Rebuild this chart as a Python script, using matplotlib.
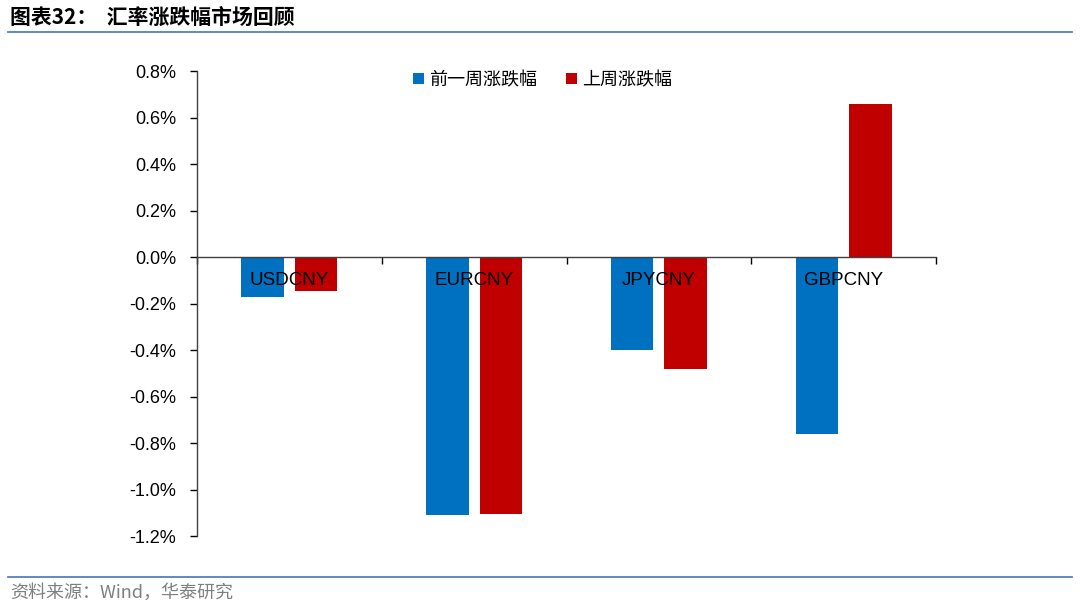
import matplotlib.pyplot as plt
import matplotlib.ticker as mticker
import numpy as np

plt.rcParams['font.family'] = ['Liberation Sans', 'Noto Sans CJK SC', 'DejaVu Sans']

pairs = ['USDCNY', 'EURCNY', 'JPYCNY', 'GBPCNY']
prev_week = [-0.17, -1.11, -0.40, -0.76]   # 前一周涨跌幅 (%)
last_week = [-0.145, -1.105, -0.48, 0.66]  # 上周涨跌幅 (%)
series_names = ['前一周涨跌幅', '上周涨跌幅']

fig = plt.figure(figsize=(10.8, 6.06), dpi=100)
ax = fig.add_axes([0.1824, 0.1155, 0.6843, 0.7673])

x = np.arange(len(pairs))
w = 0.23
ax.bar(x - 0.145, prev_week, w, color='#0070C0', label=series_names[0], zorder=2)
ax.bar(x + 0.145, last_week, w, color='#C00000', label=series_names[1], zorder=2)

ax.set_xlim(-0.5, len(pairs) - 0.5)
ax.set_ylim(-1.2, 0.8)
ax.yaxis.set_major_locator(mticker.MultipleLocator(0.2))
ax.yaxis.set_major_formatter(mticker.FuncFormatter(lambda v, p: f'{v:.1f}%'))
ax.tick_params(axis='y', direction='out', length=5, labelsize=13, pad=10, width=1)

# x axis sits on zero line, ticks at category boundaries
ax.spines['bottom'].set_position(('data', 0))
ax.spines['top'].set_visible(False)
ax.spines['right'].set_visible(False)
for s in ['left', 'bottom']:
    ax.spines[s].set_color('#404040')
    ax.spines[s].set_linewidth(1)
ax.set_xticks(np.arange(-0.5, len(pairs), 1.0))
ax.set_xticklabels([])
ax.tick_params(axis='x', direction='out', length=5, width=1)
for i, name in enumerate(pairs):
    ax.text(i, -0.065, name, ha='center', va='top', fontsize=13.5, zorder=3)

leg = ax.legend(loc='upper center', bbox_to_anchor=(0.468, 1.035), ncol=2, frameon=False,
                prop={'family': ['Noto Sans CJK SC'], 'size': 13},
                handlelength=0.6, handleheight=0.6, handletextpad=0.3, columnspacing=1.6)

fig.text(0.009, 0.972, '图表32：  汇率涨跌幅市场回顾', fontsize=15, fontweight='bold',
         va='center', ha='left', family=['Noto Sans CJK SC', 'DejaVu Sans'])
fig.add_artist(plt.Line2D([0.007, 0.993], [0.948, 0.948], color='#4F81BD', lw=1.3))
fig.add_artist(plt.Line2D([0.007, 0.993], [0.048, 0.048], color='#4F81BD', lw=1.3))
fig.text(0.009, 0.021, '资料来源：Wind，华泰研究', fontsize=13, color='#7F7F7F',
         va='center', ha='left', family=['Noto Sans CJK SC', 'DejaVu Sans'])

fig.savefig('out.png', dpi=100)
